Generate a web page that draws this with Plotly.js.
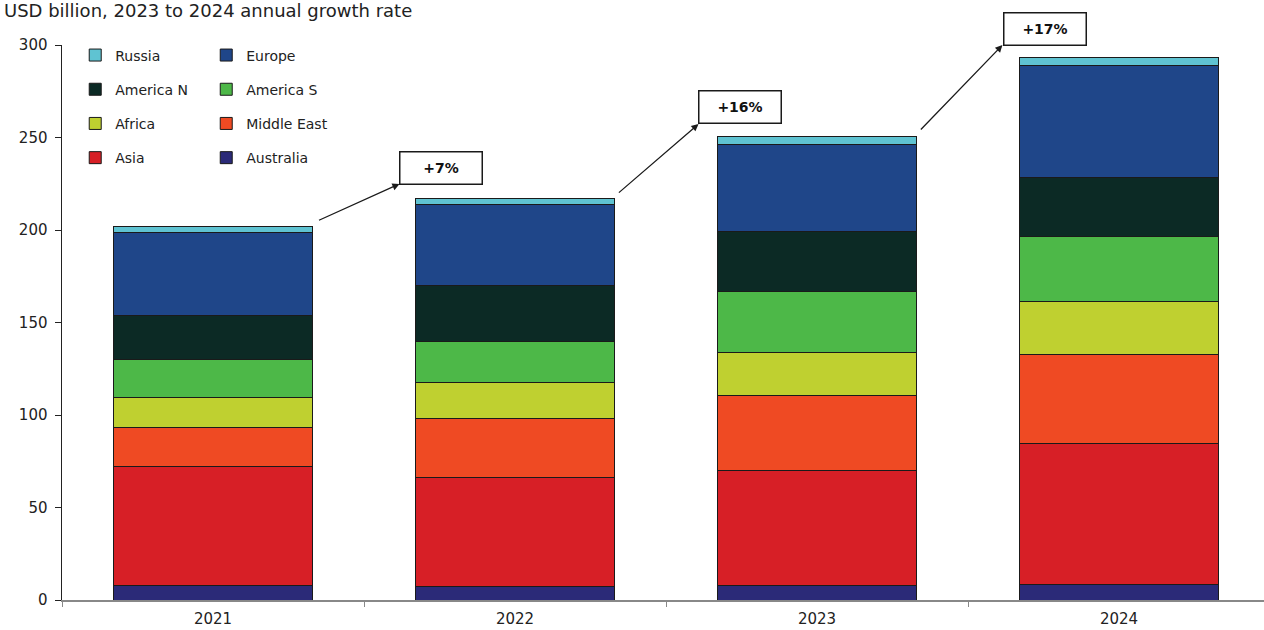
<!DOCTYPE html>
<html>
<head>
<meta charset="utf-8">
<script src="https://cdn.plot.ly/plotly-3.0.1.min.js"></script>
<style>html,body{margin:0;padding:0;background:#fff;}#chart{width:1264px;height:630px;}</style>
</head>
<body>
<div id="chart"></div>
<script>
// Categories (years)
const years = ['2021', '2022', '2023', '2024'];

// Series values, USD billion (bottom of stack first)
const australia  = [8, 7.5, 8, 8.5];
const asia       = [64, 58.5, 62, 76];
const middleEast = [21.5, 32, 40.5, 48];
const africa     = [16, 19.5, 23.5, 29];
const americaS   = [20.5, 22.5, 32.5, 35];
const americaN   = [24, 30, 32.5, 32];
const europe     = [44.5, 44, 47, 60.5];
const russia     = [3.5, 3, 4.5, 4.5];

// Growth labels
const growthLabels = ['+7%', '+16%', '+17%'];

const seriesNames = ['Australia', 'Asia', 'Middle East', 'Africa', 'America S', 'America N', 'Europe', 'Russia'];
const seriesValues = [australia, asia, middleEast, africa, americaS, americaN, europe, russia];
const seriesColors = ['#2b2a78', '#d71f26', '#ef4a23', '#bfd030', '#4db848', '#0c2a25', '#1f4689', '#5fc3d2'];
const seriesLegend = ['legend2', 'legend', 'legend2', 'legend', 'legend2', 'legend', 'legend2', 'legend'];
const seriesRank   = [4, 4, 3, 3, 2, 2, 1, 1];

const traces = seriesNames.map((n, i) => ({
  type: 'bar',
  name: n,
  x: years,
  y: seriesValues[i],
  width: 0.66,
  legend: seriesLegend[i],
  legendgroup: n,
  legendrank: seriesRank[i],
  marker: {color: seriesColors[i], line: {color: '#1a1a1a', width: 1}},
  hoverinfo: 'x+y+name'
}));

const font = 'DejaVu Sans, Verdana, sans-serif';

// arrow (tail -> head) in data coordinates, boxes: x in data, y in paper
const arrowTails = [[0.346, 204.9], [1.339, 219.5], [2.339, 253.5]];
const arrowHeads = [[0.6175, 224.9], [1.6076, 257.3], [2.614, 300]];
const boxPos = [[0.755, 0.7775], [1.745, 0.8874], [2.755, 1.0297]];

const annotations = [];
growthLabels.forEach((g, i) => {
  annotations.push({
    xref: 'x', yref: 'y', axref: 'x', ayref: 'y',
    x: arrowHeads[i][0], y: arrowHeads[i][1],
    ax: arrowTails[i][0], ay: arrowTails[i][1],
    text: '', showarrow: true, arrowhead: 2, arrowsize: 1.1, arrowwidth: 1.3,
    arrowcolor: '#1a1a1a', standoff: 0, startstandoff: 0
  });
  annotations.push({
    xref: 'x', yref: 'paper',
    x: boxPos[i][0], y: boxPos[i][1],
    xanchor: 'center', yanchor: 'middle',
    text: '<b>' + g + '</b>', showarrow: false,
    font: {family: font, size: 14, color: '#111'},
    bgcolor: '#fff', bordercolor: '#1a1a1a', borderwidth: 1.5,
    width: 79, height: 29, borderpad: 1
  });
});
annotations.push({
  xref: 'paper', yref: 'paper',
  x: -0.05, y: 1.0, yanchor: 'middle', xanchor: 'left', yshift: 35,
  text: 'USD billion, 2023 to 2024 annual growth rate', showarrow: false,
  font: {family: font, size: 18, color: '#222'}
});

const legendBase = {
  orientation: 'v', traceorder: 'grouped', tracegroupgap: 13,
  bgcolor: 'rgba(0,0,0,0)', borderwidth: 0,
  font: {family: font, size: 14, color: '#222'},
  xanchor: 'left', yanchor: 'top', y: 1.01, itemwidth: 30
};

const layout = {
  width: 1264, height: 630,
  margin: {l: 62, r: 0, t: 45, b: 30},
  paper_bgcolor: '#fff', plot_bgcolor: '#fff',
  barmode: 'stack',
  showlegend: true,
  legend: Object.assign({}, legendBase, {x: 0.011}),
  legend2: Object.assign({}, legendBase, {x: 0.12}),
  xaxis: {
    type: 'category', range: [-0.5, 3.48],
    showline: true, linecolor: '#888', linewidth: 1.5,
    ticks: 'outside', tickson: 'boundaries', ticklen: 5, tickcolor: '#888',
    ticklabelstandoff: 4,
    showgrid: false, zeroline: false,
    tickfont: {family: font, size: 15, color: '#222'}
  },
  yaxis: {
    range: [0, 300], tickvals: [0, 50, 100, 150, 200, 250, 300],
    showline: true, linecolor: '#222', linewidth: 1.5,
    ticks: 'outside', ticklen: 6, tickcolor: '#222',
    ticklabelstandoff: 4,
    showgrid: false, zeroline: false,
    tickfont: {family: font, size: 15, color: '#222'}
  },
  annotations: annotations
};

Plotly.newPlot('chart', traces, layout, {displayModeBar: false, staticPlot: true});
</script>
</body>
</html>
